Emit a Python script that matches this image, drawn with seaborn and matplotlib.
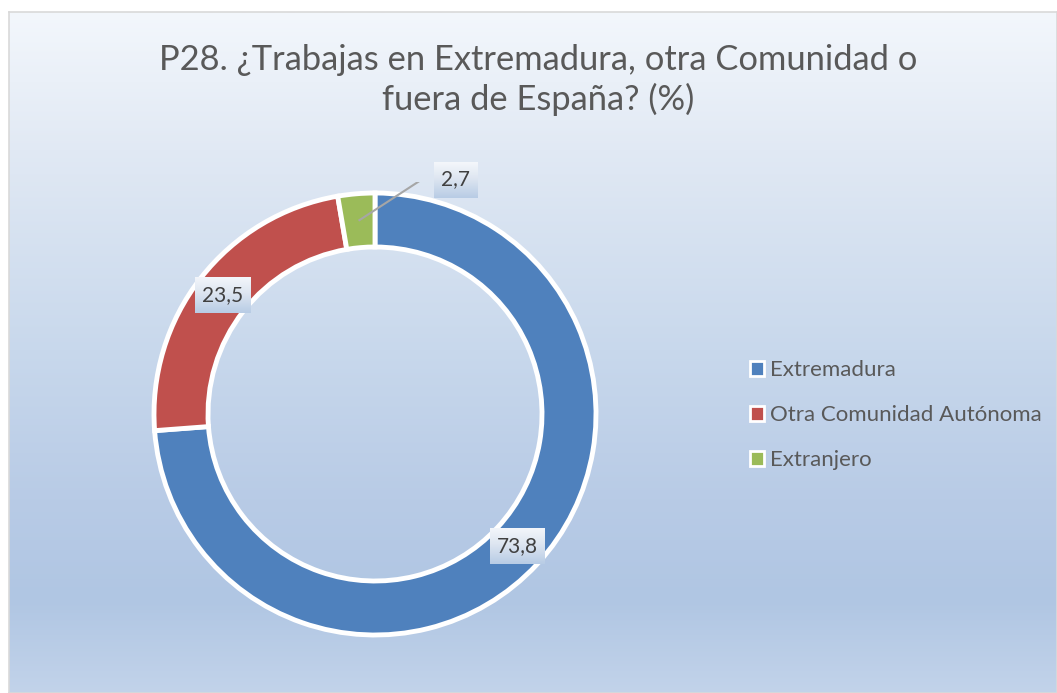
import numpy as np
import matplotlib
matplotlib.use("Agg")
import matplotlib.pyplot as plt
import seaborn as sns

categories = ["Extremadura", "Otra Comunidad Autónoma", "Extranjero"]
values = [73.8, 23.5, 2.7]
value_labels = ["73,8", "23,5", "2,7"]
title = "P28. ¿Trabajas en Extremadura, otra Comunidad o\nfuera de España? (%)"

sns.set_theme(style="white")
plt.rcParams['font.family'] = ['Lato', 'DejaVu Sans']
colors = ["#4F81BD", "#C0504D", "#9BBB59"]
text_color = "#595959"

W, H = 1057, 693
fig = plt.figure(figsize=(W / 100, H / 100), dpi=100)
fig.patch.set_facecolor("white")

# background chart area with vertical gradient
bg = fig.add_axes([9 / W, 0, 1 - 9 / W, 1 - 12 / H])
stops_y = np.array([0, 138, 338, 488, 588, 681]) / 681.0
stops_c = np.array([[243, 247, 252], [225, 233, 244], [200, 216, 236],
                    [184, 203, 230], [176, 198, 227], [194, 211, 234]]) / 255.0
yy = np.linspace(0, 1, 400)
grad = np.stack([np.interp(yy, stops_y, stops_c[:, k]) for k in range(3)], axis=-1)
bg.imshow(grad[:, None, :], aspect="auto", extent=[0, 1, 1, 0])
bg.set_xlim(0, 1)
bg.set_ylim(1, 0)
bg.set_xticks([])
bg.set_yticks([])
for s in bg.spines.values():
    s.set_color("#D9D9D9")
    s.set_linewidth(1.2)

# donut axes: center (375, 414) px, radius 221 px
R = 221
half = 1.05 * R
cx, cy = 375, 414
ax = fig.add_axes([(cx - half) / W, (H - cy - half) / H, 2 * half / W, 2 * half / H])
ax.patch.set_alpha(0)

ring = 54 / R
wedges, _ = ax.pie(values, colors=colors, startangle=90, counterclock=False,
                   radius=1.0,
                   wedgeprops=dict(width=ring, edgecolor="white", linewidth=3.5))
ax.set_xlim(-1.05, 1.05)
ax.set_ylim(-1.05, 1.05)
ax.axis("off")

# label gradient
lab_grad = np.stack([np.interp(np.linspace(0, 1, 50), [0, 0.45, 1],
                               [c0, c1, c2])
                     for c0, c1, c2 in zip((244, 247, 251), (222, 230, 241),
                                           (184, 204, 229))], axis=-1) / 255.0

mid_r = 1 - ring / 2
texts = []
anchors = []
for i, w in enumerate(wedges):
    ang = np.deg2rad((w.theta1 + w.theta2) / 2)
    x, y = mid_r * np.cos(ang), mid_r * np.sin(ang)
    if i == 2:
        t = ax.text(x + 0.437, y + 0.186, value_labels[i], ha="center",
                    va="center", fontsize=15, color="#404040")
        anchors.append((x, y))
    else:
        t = ax.text(x, y, value_labels[i], ha="center", va="center", fontsize=15,
                    color="#404040")
        anchors.append(None)
    texts.append(t)

fig.canvas.draw()
renderer = fig.canvas.get_renderer()
inv = ax.transData.inverted()
for t, anc in zip(texts, anchors):
    bb = t.get_window_extent(renderer)
    px = 7
    x0, x1 = bb.x0 - px, bb.x1 + px
    cyy = (bb.y0 + bb.y1) / 2
    y0, y1 = cyy - 18, cyy + 18
    if anc is not None:
        ex, ey = inv.transform((x0 - 12, cyy))
        lx, ly = inv.transform((x0, cyy))
        ax.plot([anc[0], ex, lx], [anc[1], ey, ly], color="#A6A6A6", lw=1.5,
                solid_capstyle="butt", zorder=4)
    lax = fig.add_axes([x0 / W, y0 / H, (x1 - x0) / W, (y1 - y0) / H], zorder=5)
    lax.imshow(lab_grad[:, None, :], aspect="auto", extent=[0, 1, 1, 0])
    lax.set_xlim(0, 1)
    lax.set_ylim(1, 0)
    lax.axis("off")
    lax.text(0.5, 0.5, t.get_text(), transform=lax.transAxes, ha="center",
             va="center", fontsize=15, color="#404040")
    t.set_alpha(0)

fig.text(538 / W, 1 - 80 / H, title, ha="center", va="center", fontsize=24.8,
         color=text_color, linespacing=1.25)

handles = [plt.Rectangle((0, 0), 1, 1, fc=c, ec="white", lw=2) for c in colors]
leg = fig.legend(handles, categories, loc="center left",
                 bbox_to_anchor=(730 / W, 1 - 415 / H), frameon=False,
                 fontsize=16, labelcolor=text_color, handlelength=0.65,
                 handleheight=0.65, handletextpad=0.25, labelspacing=1.13)

fig.savefig("out.png", dpi=100)
